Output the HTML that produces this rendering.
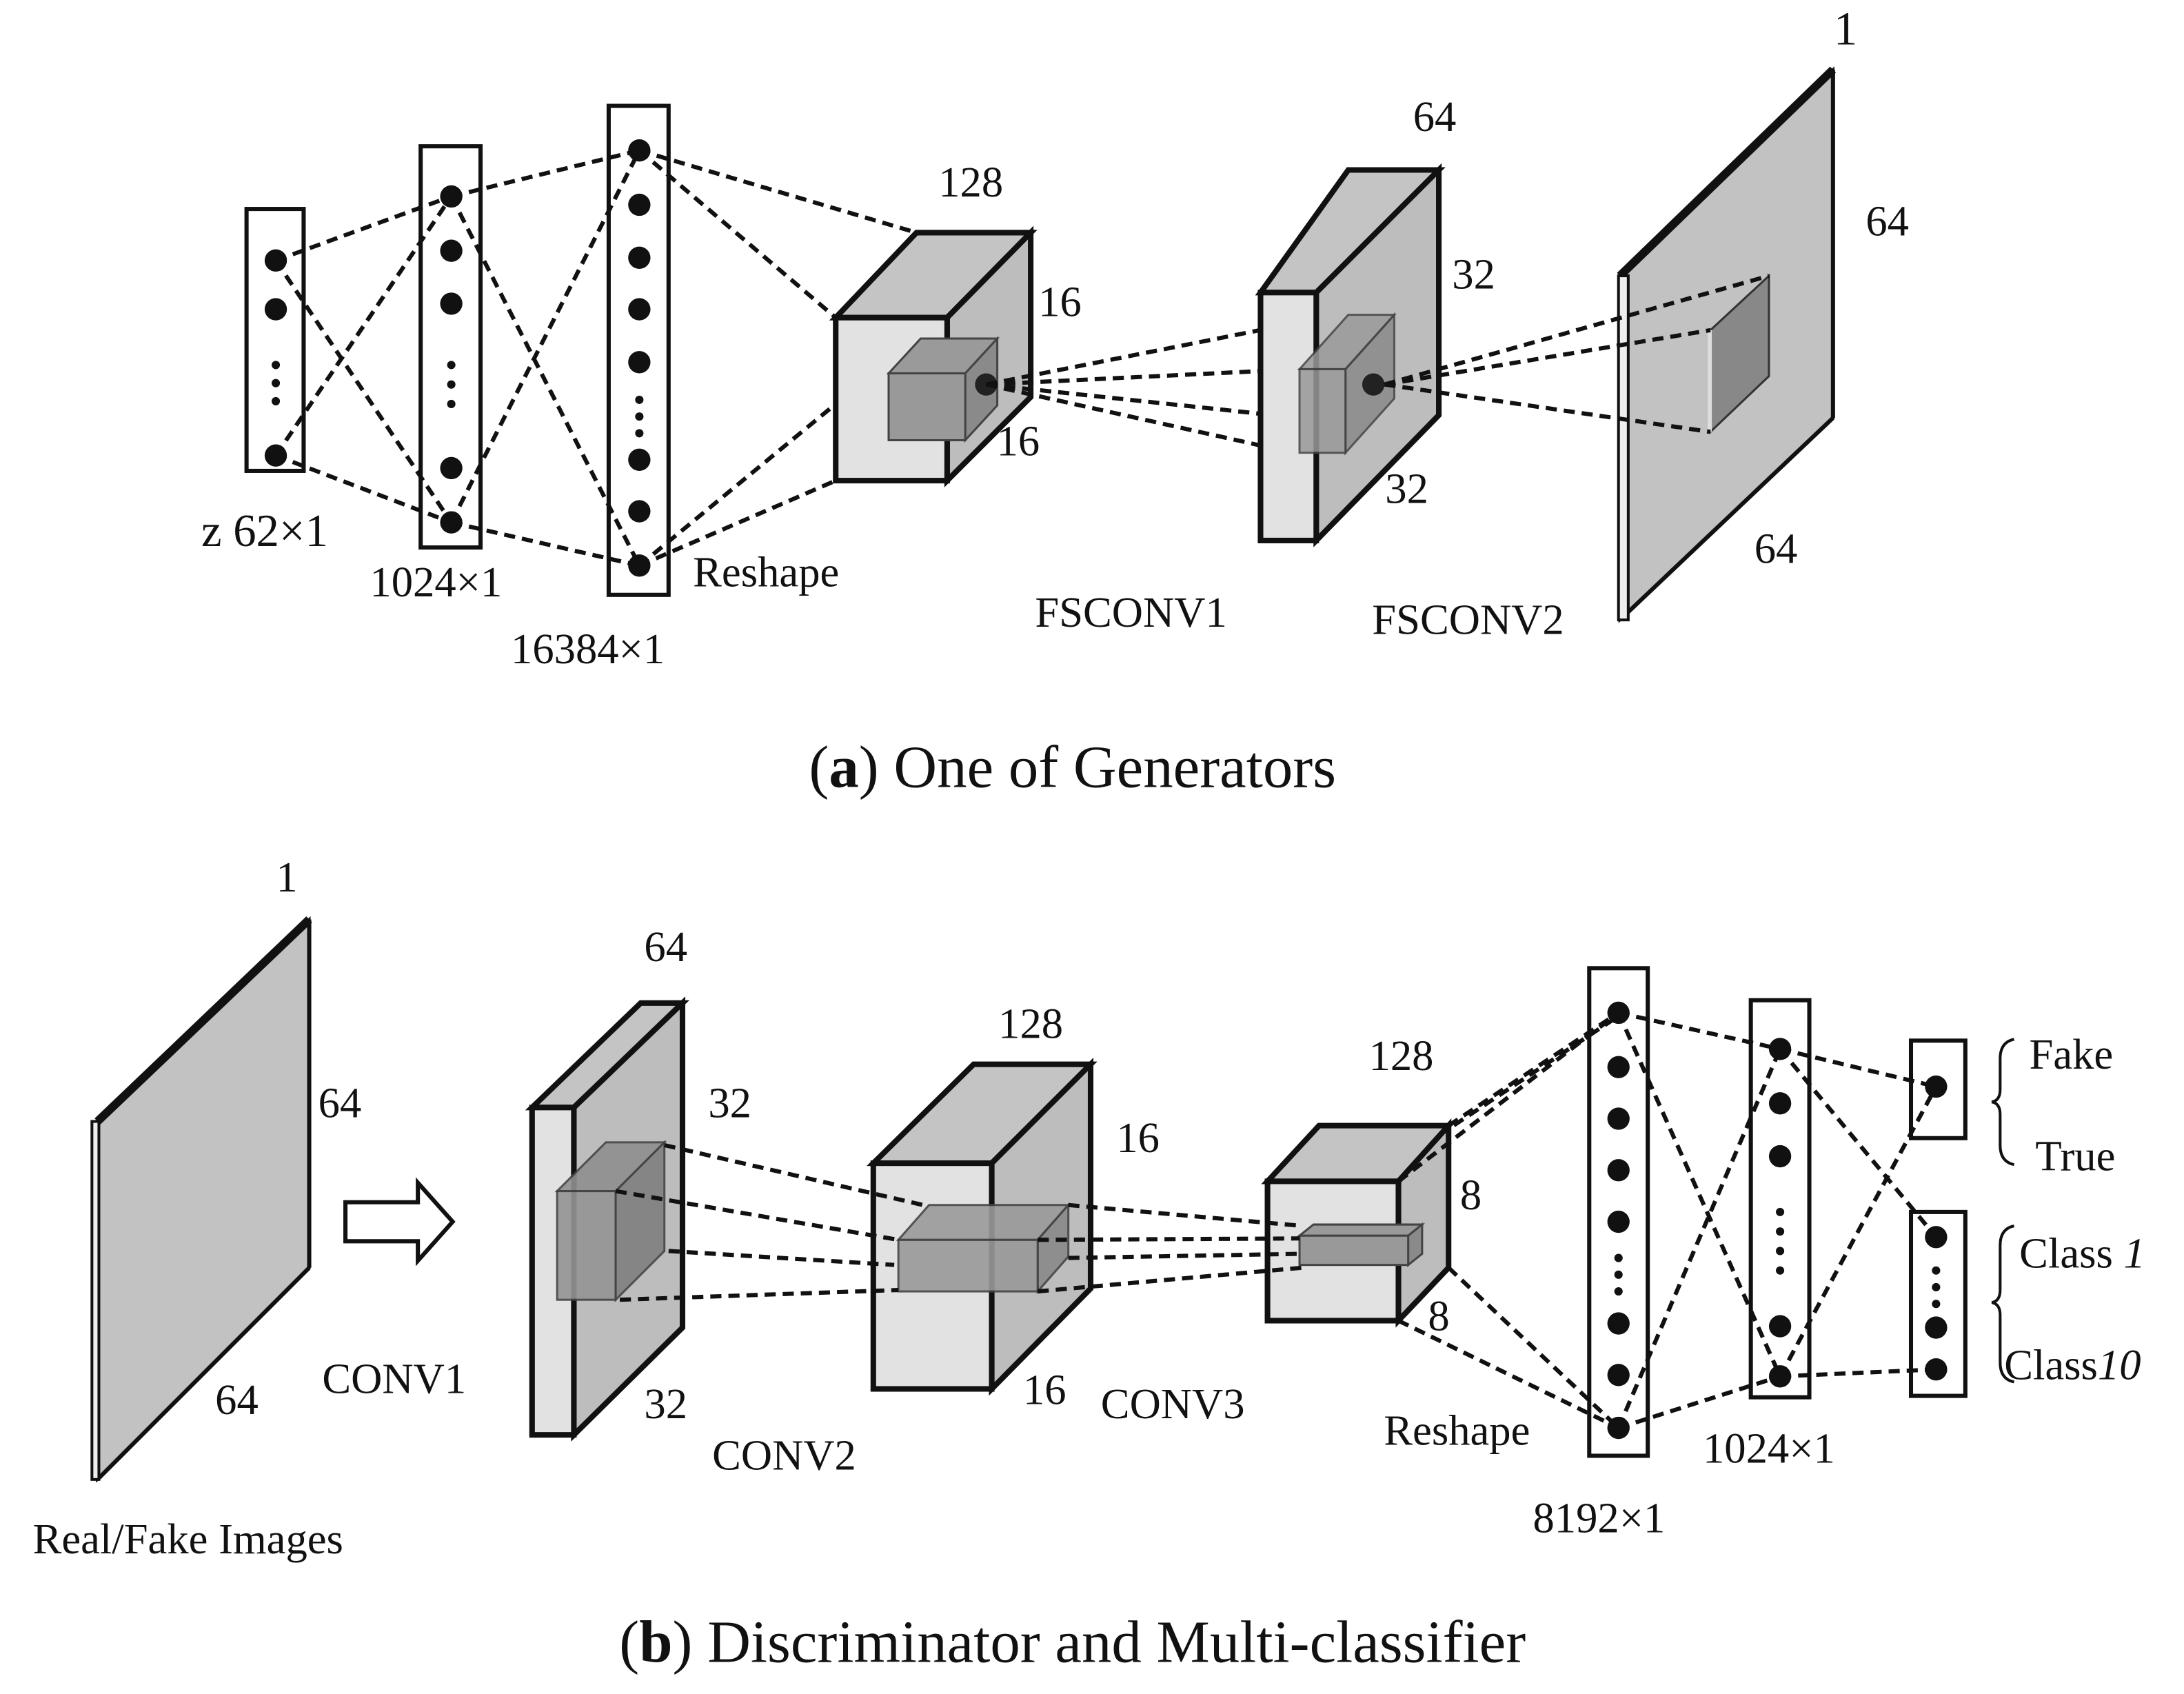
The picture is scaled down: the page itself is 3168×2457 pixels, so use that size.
<!DOCTYPE html>
<html><head><meta charset="utf-8"><style>
html,body{margin:0;padding:0;background:#fff;}
svg{display:block;}
text{font-family:"Liberation Serif",serif;fill:#111;}
</style></head><body>
<svg width="3168" height="2457" viewBox="0 0 1568 1216" preserveAspectRatio="none" xmlns="http://www.w3.org/2000/svg">
<defs>
<style>
.d{stroke:#111;stroke-width:3;stroke-dasharray:8 5;fill:none;}
.b{fill:#fff;stroke:#111;stroke-width:3;}
.t{font-size:31px;text-anchor:middle;}
</style>
</defs>
<!-- ===== (a) ===== -->
<rect class="b" x="177" y="150" width="41" height="188"/>
<rect class="b" x="302" y="105" width="43" height="288"/>
<rect class="b" x="437" y="76" width="43" height="351"/>
<g class="d">
<line x1="198" y1="187" x2="324" y2="141"/><line x1="198" y1="187" x2="324" y2="375"/>
<line x1="198" y1="327" x2="324" y2="141"/><line x1="198" y1="327" x2="324" y2="375"/>
<line x1="324" y1="141" x2="459" y2="108"/><line x1="324" y1="141" x2="459" y2="406"/>
<line x1="324" y1="375" x2="459" y2="108"/><line x1="324" y1="375" x2="459" y2="406"/>
<line x1="459" y1="108" x2="658" y2="167"/><line x1="459" y1="108" x2="600" y2="228"/>
<line x1="459" y1="406" x2="600" y2="290"/><line x1="459" y1="406" x2="600" y2="345"/>
</g>
<g fill="#111">
<circle cx="198" cy="187" r="8"/><circle cx="198" cy="222" r="8"/><circle cx="198" cy="262" r="3"/><circle cx="198" cy="275" r="3"/><circle cx="198" cy="288" r="3"/><circle cx="198" cy="327" r="8"/>
<circle cx="324" cy="141" r="8"/><circle cx="324" cy="180" r="8"/><circle cx="324" cy="218" r="8"/><circle cx="324" cy="262" r="3"/><circle cx="324" cy="276" r="3"/><circle cx="324" cy="290" r="3"/><circle cx="324" cy="336" r="8"/><circle cx="324" cy="375" r="8"/>
<circle cx="459" cy="108" r="8"/><circle cx="459" cy="147" r="8"/><circle cx="459" cy="185" r="8"/><circle cx="459" cy="222" r="8"/><circle cx="459" cy="260" r="8"/><circle cx="459" cy="287" r="3"/><circle cx="459" cy="299" r="3"/><circle cx="459" cy="311" r="3"/><circle cx="459" cy="330" r="8"/><circle cx="459" cy="367" r="8"/><circle cx="459" cy="406" r="8"/>
</g>
<!-- cube1 -->
<polygon points="600,228 658,167 740,167 680,228" fill="#c4c4c4" stroke="#111" stroke-width="4"/>
<polygon points="680,228 740,167 740,285 680,345" fill="#bdbdbd" stroke="#111" stroke-width="4"/>
<rect x="600" y="228" width="80" height="117" fill="#e2e2e2" stroke="#111" stroke-width="4"/>
<polygon points="638,268 661,243 716,243 693,268" fill="#9a9a9a" stroke="#444" stroke-width="1.5"/>
<polygon points="693,268 716,243 716,291 693,316" fill="#8a8a8a" stroke="#444" stroke-width="1.5"/>
<rect x="638" y="268" width="55" height="48" fill="#999" stroke="#444" stroke-width="1.5"/>
<circle cx="708" cy="276" r="8" fill="#222"/>
<g class="d">
<line x1="708" y1="276" x2="965" y2="225"/><line x1="708" y1="276" x2="933" y2="265"/>
<line x1="708" y1="276" x2="933" y2="300"/><line x1="708" y1="276" x2="933" y2="326"/>
</g>
<!-- layer2 -->
<polygon points="905,210 968,122 1033,122 945,210" fill="#c4c4c4" stroke="#111" stroke-width="4"/>
<polygon points="945,210 1033,122 1033,298 945,388" fill="#bdbdbd" stroke="#111" stroke-width="4"/>
<rect x="905" y="210" width="40" height="178" fill="#e2e2e2" stroke="#111" stroke-width="4"/>
<polygon points="933,265 966,265 1001,226 968,226" fill="#9a9a9a" stroke="#444" stroke-width="1.5" opacity="0.85"/>
<polygon points="966,265 1001,226 1001,286 966,325" fill="#8a8a8a" stroke="#444" stroke-width="1.5" opacity="0.85"/>
<rect x="933" y="265" width="33" height="60" fill="#999" stroke="#444" stroke-width="1.5" opacity="0.85"/>
<circle cx="986" cy="276" r="8" fill="#222"/>
<!-- plane a -->
<polygon points="1163,198 1316,50 1316,300 1163,445" fill="#c2c2c2" stroke="#111" stroke-width="2"/>
<line x1="1163" y1="198" x2="1316" y2="50" stroke="#111" stroke-width="6"/>
<line x1="1316" y1="50" x2="1316" y2="300" stroke="#111" stroke-width="3"/>
<line x1="1316" y1="300" x2="1163" y2="445" stroke="#111" stroke-width="3"/>
<rect x="1162" y="198" width="7" height="247" fill="#eee" stroke="#111" stroke-width="2"/>
<polygon points="1228,237 1270,198 1270,270 1228,310" fill="#888" stroke="#333" stroke-width="1.5"/>
<rect x="1226" y="237" width="3" height="73" fill="#ddd"/>
<g class="d">
<line x1="994" y1="276" x2="1270" y2="198"/><line x1="994" y1="276" x2="1228" y2="237"/><line x1="994" y1="276" x2="1228" y2="310"/>
</g>
<g class="t">
<text x="697" y="141">128</text><text x="761" y="227">16</text><text x="731" y="327">16</text>
<text x="1030" y="94">64</text><text x="1058" y="207">32</text><text x="1010" y="361">32</text>
<text x="1325" y="32" font-size="34">1</text><text x="1355" y="169">64</text><text x="1275" y="404">64</text>
<text x="190" y="392" font-size="33">z 62×1</text><text x="313" y="428">1024×1</text><text x="422" y="476">16384×1</text>
<text x="550" y="421">Reshape</text><text x="812" y="450">FSCONV1</text><text x="1054" y="455">FSCONV2</text>
</g>
<text x="770" y="565" font-size="43" text-anchor="middle">(<tspan font-weight="bold">a</tspan>) One of Generators</text>

<!-- ===== (b) ===== -->
<polygon points="70,805 222,660 222,910 70,1062" fill="#c2c2c2" stroke="#111" stroke-width="2"/>
<line x1="70" y1="805" x2="222" y2="660" stroke="#111" stroke-width="6"/>
<line x1="222" y1="660" x2="222" y2="910" stroke="#111" stroke-width="3"/>
<line x1="222" y1="910" x2="70" y2="1062" stroke="#111" stroke-width="3"/>
<rect x="66" y="805" width="5" height="257" fill="#eee" stroke="#111" stroke-width="2"/>
<polygon points="248,863 300,863 300,849 325,877 300,905 300,891 248,891" fill="#fff" stroke="#111" stroke-width="3"/>
<!-- conv1 slab -->
<polygon points="382,795 460,720 490,720 412,795" fill="#c4c4c4" stroke="#111" stroke-width="4"/>
<polygon points="412,795 490,720 490,953 412,1030" fill="#bdbdbd" stroke="#111" stroke-width="4"/>
<rect x="382" y="795" width="30" height="235" fill="#e2e2e2" stroke="#111" stroke-width="4"/>
<polygon points="400,855 435,820 477,820 442,855" fill="#8f8f8f" stroke="#444" stroke-width="1.5" opacity="0.9"/>
<polygon points="442,855 477,820 477,898 442,933" fill="#7f7f7f" stroke="#444" stroke-width="1.5" opacity="0.9"/>
<rect x="400" y="855" width="42" height="78" fill="#949494" stroke="#444" stroke-width="1.5" opacity="0.9"/>
<!-- conv2 cube -->
<polygon points="627,835 699,764 783,764 712,835" fill="#c4c4c4" stroke="#111" stroke-width="4"/>
<polygon points="712,835 783,764 783,925 712,997" fill="#bdbdbd" stroke="#111" stroke-width="4"/>
<rect x="627" y="835" width="85" height="162" fill="#e2e2e2" stroke="#111" stroke-width="4"/>
<polygon points="645,890 667,865 767,865 745,890" fill="#9a9a9a" stroke="#444" stroke-width="1.5" opacity="0.9"/>
<polygon points="745,890 767,865 767,902 745,927" fill="#8a8a8a" stroke="#444" stroke-width="1.5" opacity="0.9"/>
<rect x="645" y="890" width="100" height="37" fill="#999" stroke="#444" stroke-width="1.5" opacity="0.9"/>
<g class="d">
<line x1="477" y1="822" x2="667" y2="866"/><line x1="442" y1="855" x2="645" y2="890"/>
<line x1="480" y1="898" x2="642" y2="908"/><line x1="445" y1="933" x2="645" y2="926"/>
</g>
<!-- conv3 cube -->
<polygon points="910,848 947,808 1040,808 1004,848" fill="#c4c4c4" stroke="#111" stroke-width="4"/>
<polygon points="1004,848 1040,808 1040,910 1004,948" fill="#bdbdbd" stroke="#111" stroke-width="4"/>
<rect x="910" y="848" width="94" height="100" fill="#e2e2e2" stroke="#111" stroke-width="4"/>
<polygon points="933,887 943,879 1021,879 1011,887" fill="#9a9a9a" stroke="#444" stroke-width="1.5"/>
<polygon points="1011,887 1021,879 1021,900 1011,908" fill="#8a8a8a" stroke="#444" stroke-width="1.5"/>
<rect x="933" y="887" width="78" height="21" fill="#999" stroke="#444" stroke-width="1.5"/>
<g class="d">
<line x1="767" y1="865" x2="935" y2="880"/><line x1="745" y1="890" x2="933" y2="889"/>
<line x1="767" y1="903" x2="935" y2="900"/><line x1="745" y1="927" x2="935" y2="910"/>
</g>
<!-- columns b -->
<rect class="b" x="1141" y="695" width="42" height="350"/>
<rect class="b" x="1257" y="718" width="42" height="285"/>
<rect class="b" x="1372" y="747" width="39" height="70"/>
<rect class="b" x="1372" y="870" width="39" height="132"/>
<g class="d">
<line x1="1040" y1="808" x2="1162" y2="727"/><line x1="1033" y1="815" x2="1158" y2="732"/>
<line x1="1004" y1="848" x2="1162" y2="727"/>
<line x1="1040" y1="910" x2="1162" y2="1025"/><line x1="1004" y1="948" x2="1162" y2="1025"/>
<line x1="1162" y1="727" x2="1278" y2="753"/><line x1="1162" y1="727" x2="1278" y2="988"/>
<line x1="1162" y1="1025" x2="1278" y2="753"/><line x1="1162" y1="1025" x2="1278" y2="988"/>
<line x1="1278" y1="753" x2="1390" y2="780"/><line x1="1278" y1="753" x2="1390" y2="888"/>
<line x1="1278" y1="988" x2="1390" y2="780"/><line x1="1278" y1="988" x2="1390" y2="983"/>
</g>
<g fill="#111">
<circle cx="1162" cy="727" r="8"/><circle cx="1162" cy="766" r="8"/><circle cx="1162" cy="803" r="8"/><circle cx="1162" cy="840" r="8"/><circle cx="1162" cy="877" r="8"/><circle cx="1162" cy="903" r="3"/><circle cx="1162" cy="915" r="3"/><circle cx="1162" cy="927" r="3"/><circle cx="1162" cy="950" r="8"/><circle cx="1162" cy="987" r="8"/><circle cx="1162" cy="1025" r="8"/>
<circle cx="1278" cy="753" r="8"/><circle cx="1278" cy="792" r="8"/><circle cx="1278" cy="830" r="8"/><circle cx="1278" cy="870" r="3"/><circle cx="1278" cy="884" r="3"/><circle cx="1278" cy="898" r="3"/><circle cx="1278" cy="912" r="3"/><circle cx="1278" cy="952" r="8"/><circle cx="1278" cy="988" r="8"/>
<circle cx="1390" cy="780" r="8"/>
<circle cx="1390" cy="888" r="8"/><circle cx="1390" cy="912" r="3"/><circle cx="1390" cy="924" r="3"/><circle cx="1390" cy="936" r="3"/><circle cx="1390" cy="953" r="8"/><circle cx="1390" cy="983" r="8"/>
</g>
<!-- braces -->
<path d="M1446,746 Q1436,748 1436,760 L1436,782 Q1436,790 1430,791 Q1436,792 1436,800 L1436,822 Q1436,834 1446,836" fill="none" stroke="#111" stroke-width="2"/>
<path d="M1446,880 Q1436,882 1436,894 L1436,926 Q1436,934 1430,935 Q1436,936 1436,944 L1436,978 Q1436,990 1446,992" fill="none" stroke="#111" stroke-width="2"/>
<g class="t">
<text x="206" y="640">1</text><text x="244" y="802">64</text><text x="170" y="1015">64</text>
<text x="135" y="1115">Real/Fake Images</text><text x="283" y="1000">CONV1</text>
<text x="478" y="690">64</text><text x="524" y="802">32</text><text x="478" y="1018">32</text>
<text x="740" y="745">128</text><text x="817" y="827">16</text><text x="750" y="1008">16</text>
<text x="563" y="1055">CONV2</text><text x="842" y="1018">CONV3</text>
<text x="1006" y="768">128</text><text x="1056" y="868">8</text><text x="1033" y="955">8</text>
<text x="1046" y="1037">Reshape</text><text x="1148" y="1100">8192×1</text><text x="1270" y="1050">1024×1</text>
<text x="1487" y="767">Fake</text><text x="1490" y="840">True</text>
<text x="1495" y="910">Class <tspan font-style="italic">1</tspan></text>
<text x="1488" y="990">Class<tspan font-style="italic">10</tspan></text>
</g>
<text x="770" y="1193" font-size="43" text-anchor="middle">(<tspan font-weight="bold">b</tspan>) Discriminator and Multi-classifier</text>
</svg>
</body></html>
